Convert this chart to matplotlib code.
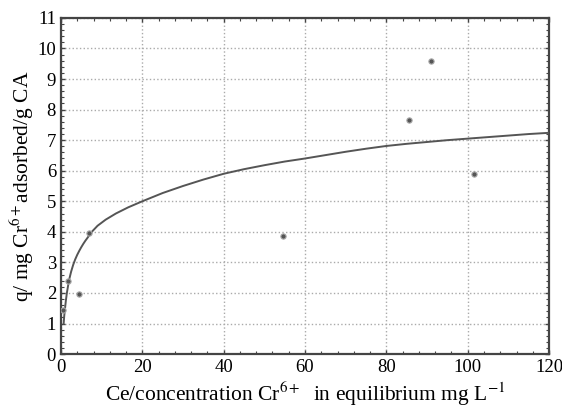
import numpy as np
import matplotlib
matplotlib.use("Agg")
import matplotlib.pyplot as plt
from matplotlib.ticker import MultipleLocator

# measured points
ce_pts = [0.5, 1.7, 4.5, 6.9, 54.5, 85.5, 90.9, 101.5]
q_pts = [1.44, 2.38, 1.95, 3.97, 3.86, 7.65, 9.6, 5.88]

# fitted isotherm
ce_fit = [0.66, 0.8, 1.0, 1.2, 1.45, 1.7, 2.0, 2.5, 3.0, 3.5, 4.0, 4.5, 5.0, 5.5, 6.0,
          6.5, 7.5, 9.0, 11, 13.5, 16.5, 20, 25, 30, 35, 40, 45, 50, 55, 60, 65, 70,
          75, 80, 85, 90, 95, 100, 105, 110, 115, 120]
q_fit = [1.0, 1.25, 1.5, 1.75, 2.0, 2.2, 2.43, 2.7, 2.92, 3.1, 3.25, 3.38, 3.5, 3.61,
         3.71, 3.8, 3.99, 4.2, 4.4, 4.6, 4.8, 5.0, 5.27, 5.5, 5.71, 5.9, 6.05, 6.18,
         6.3, 6.4, 6.51, 6.62, 6.72, 6.81, 6.88, 6.94, 7.0, 7.05, 7.1, 7.15, 7.2, 7.24]

xticks = [0, 20, 40, 60, 80, 100, 120]
yticks = list(range(0, 12))

plt.rcParams['font.family'] = ['Liberation Serif', 'DejaVu Serif']
plt.rcParams['mathtext.fontset'] = 'stix'

fig = plt.figure(figsize=(5.62, 4.07), dpi=100)
ax = fig.add_axes([0.1085, 0.130, 0.8685, 0.826])

ax.plot(ce_fit, q_fit, color='#555555', lw=1.4, zorder=3)
ax.plot(ce_pts, q_pts, 'o', ms=3.8, mfc='#555555', mec='#aaaaaa', mew=0.8, zorder=4)

ax.set_xlim(0, 120)
ax.set_ylim(0, 11)
ax.set_xticks(xticks)
ax.set_yticks(yticks)
ax.xaxis.set_minor_locator(MultipleLocator(4))
ax.yaxis.set_minor_locator(MultipleLocator(0.2))
ax.tick_params(which='both', direction='in', top=True, right=True, labelsize=13.5,
               color='#444444')
ax.tick_params(which='major', length=3, width=1)
ax.tick_params(which='minor', length=2, width=0.8)
ax.grid(True, which='major', ls=':', color='#aaaaaa', lw=1)
for s in ax.spines.values():
    s.set_linewidth(1.6)
    s.set_color('#444444')

ax.set_xlabel(r'Ce/concentration Cr$^{6+}$  in equilibrium mg L$^{-1}$', fontsize=15.5, labelpad=3)
ax.set_ylabel(r'q/ mg Cr$^{6+}$adsorbed/g CA', fontsize=15.5, labelpad=1)

fig.savefig('out.png', dpi=100)
